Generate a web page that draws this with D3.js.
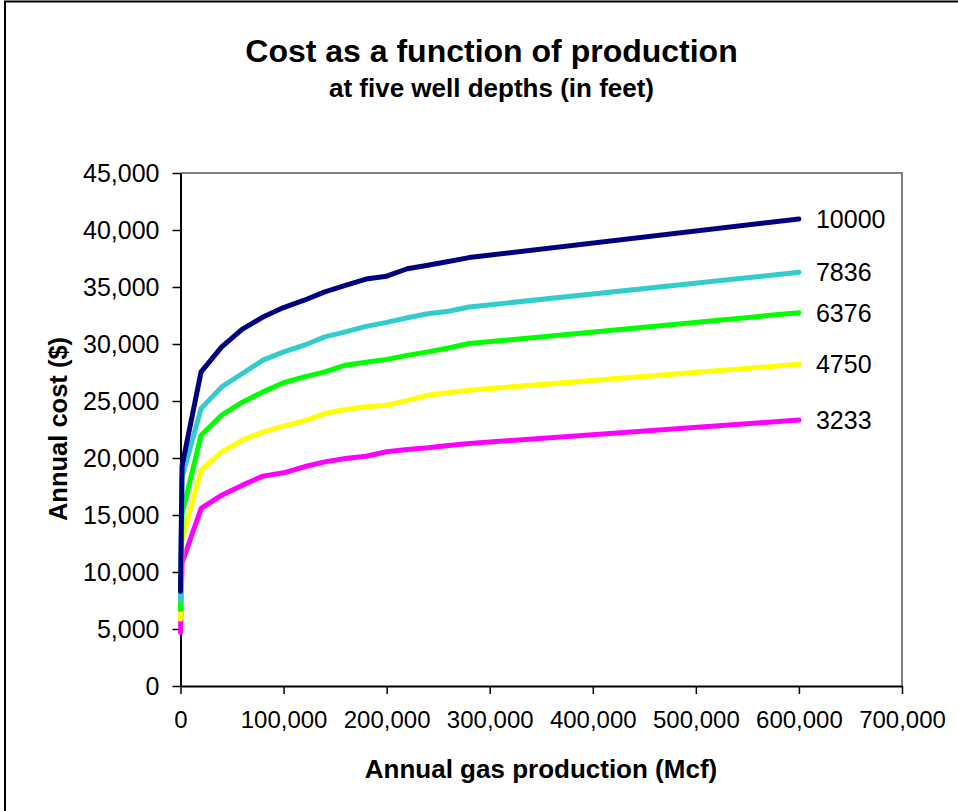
<!DOCTYPE html>
<html>
<head>
<meta charset="utf-8">
<script src="https://cdn.jsdelivr.net/npm/d3@7"></script>
<style>
  html, body { margin: 0; padding: 0; background: #fff; }
  svg { display: block; font-family: "Liberation Sans", Arial, sans-serif; }
</style>
</head>
<body>
<svg id="chart" width="958" height="811"></svg>
<script>
// Annual gas production (Mcf) at which cost was evaluated
const production = [0, 1500, 20000, 40000, 60000, 80000, 100000, 120000, 140000,
  160000, 180000, 200000, 220000, 240000, 260000, 280000, 600000];

// Well depths (feet), drawn shallow first so the deepest line sits on top
const depths = ["3233", "4750", "6376", "7836", "10000"];
const depthColors = ["#FF00FF", "#FFFF00", "#00FF00", "#33CCCC", "#000080"];

// Annual cost ($) for each depth
const cost3233 = [4700, 10800, 15580, 16740, 17620, 18410, 18700, 19230, 19660,
  19960, 20150, 20550, 20750, 20900, 21100, 21280, 23330];
const cost4750 = [5850, 12800, 18940, 20540, 21570, 22290, 22790, 23260, 23900,
  24250, 24500, 24630, 25050, 25510, 25730, 25950, 28220];
const cost6376 = [6700, 15100, 22000, 23760, 24900, 25800, 26600, 27120, 27560,
  28140, 28400, 28650, 29000, 29310, 29650, 30040, 32750];
const cost7836 = [7500, 18300, 24340, 26240, 27410, 28580, 29310, 29890, 30620,
  31060, 31550, 31900, 32300, 32650, 32870, 33250, 36290];
const cost10000 = [8300, 19300, 27560, 29750, 31300, 32370, 33200, 33840, 34570,
  35150, 35700, 35950, 36600, 36900, 37240, 37580, 40970];
const costSeries = [cost3233, cost4750, cost6376, cost7836, cost10000];

// Axis ticks
const xTicks = [0, 100000, 200000, 300000, 400000, 500000, 600000, 700000];
const yTicks = [0, 5000, 10000, 15000, 20000, 25000, 30000, 35000, 40000, 45000];

const titleText = "Cost as a function of production";
const subtitleText = "at five well depths (in feet)";
const xTitle = "Annual gas production (Mcf)";
const yTitle = "Annual cost ($)";

const svg = d3.select("#chart");

// Chart frame
svg.append("rect")
  .attr("x", 5).attr("y", 1.5).attr("width", 975).attr("height", 830)
  .attr("fill", "#fff").attr("stroke", "#000").attr("stroke-width", 2);

const plot = { left: 180.5, right: 902, top: 173, bottom: 686 };

const x = d3.scaleLinear().domain([0, 700000]).range([plot.left, plot.right]);
const y = d3.scaleLinear().domain([0, 45000]).range([plot.bottom, plot.top]);

// Plot area outline (grey top and right edges)
svg.append("path")
  .attr("d", `M${plot.left},${plot.top}H${plot.right}V${plot.bottom}`)
  .attr("fill", "none").attr("stroke", "#808080").attr("stroke-width", 2);

// Axes
const fmt = d3.format(",");
const yAxis = svg.append("g")
  .attr("transform", `translate(${plot.left},0)`)
  .call(d3.axisLeft(y).tickValues(yTicks).tickFormat(fmt)
    .tickSize(8).tickSizeOuter(0).tickPadding(13));
const xAxis = svg.append("g")
  .attr("transform", `translate(0,${plot.bottom})`)
  .call(d3.axisBottom(x).tickValues(xTicks).tickFormat(fmt)
    .tickSize(8).tickSizeOuter(0).tickPadding(17));

[yAxis, xAxis].forEach(g => {
  g.select(".domain").attr("stroke", "#000").attr("stroke-width", 2);
  g.selectAll(".tick line").attr("stroke", "#000").attr("stroke-width", 1.5);
  g.selectAll(".tick text").attr("fill", "#000")
    .style("font-family", '"Liberation Sans", Arial, sans-serif');
});
yAxis.selectAll(".tick text").style("font-size", "25px");
xAxis.selectAll(".tick text").style("font-size", "24px");

// Cost curves
const line = d3.line()
  .x((d, i) => x(production[i]))
  .y(d => y(d));

svg.append("g").selectAll("path")
  .data(costSeries)
  .join("path")
  .attr("d", d => line(d))
  .attr("fill", "none")
  .attr("stroke", (d, i) => depthColors[i])
  .attr("stroke-width", 5)
  .attr("stroke-linejoin", "round")
  .attr("stroke-linecap", "round");

// Depth labels at the end of each curve
svg.append("g").selectAll("text")
  .data(costSeries)
  .join("text")
  .attr("x", (d) => x(production[production.length - 1]) + 17)
  .attr("y", d => y(d[d.length - 1]))
  .attr("dy", "0.36em")
  .style("font-size", "25px")
  .attr("fill", "#000")
  .text((d, i) => depths[i]);

// Titles
svg.append("text")
  .attr("x", 491.5).attr("y", 62)
  .attr("text-anchor", "middle")
  .style("font-size", "32px").style("font-weight", "bold")
  .text(titleText);
svg.append("text")
  .attr("x", 491.5).attr("y", 97)
  .attr("text-anchor", "middle")
  .style("font-size", "26px").style("font-weight", "bold")
  .text(subtitleText);

svg.append("text")
  .attr("x", 541).attr("y", 778)
  .attr("text-anchor", "middle")
  .style("font-size", "26px").style("font-weight", "bold")
  .text(xTitle);
svg.append("text")
  .attr("transform", "translate(67,429) rotate(-90)")
  .attr("text-anchor", "middle")
  .style("font-size", "25.5px").style("font-weight", "bold")
  .text(yTitle);
</script>
</body>
</html>
